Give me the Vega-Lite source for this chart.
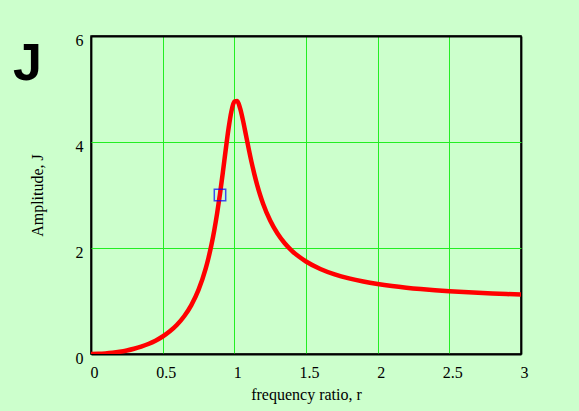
{
  "$schema": "https://vega.github.io/schema/vega-lite/v6.json",
  "width": 430,
  "height": 318,
  "autosize": {"type": "none"},
  "padding": {"left": 91, "top": 36, "right": 58, "bottom": 57},
  "background": "#ccffcc",
  "title": {
    "text": "J",
    "anchor": "start",
    "frame": "group",
    "orient": "top",
    "offset": 0,
    "baseline": "alphabetic",
    "dx": -78,
    "dy": 100,
    "font": "Liberation Sans",
    "fontSize": 52,
    "fontWeight": "bold",
    "color": "#000000"
  },
  "config": {
    "view": {"stroke": "#000000", "strokeWidth": 1.5},
    "axis": {
      "labelFont": "Liberation Serif",
      "titleFont": "Liberation Serif",
      "labelFontSize": 16,
      "titleFontSize": 16,
      "titleFontWeight": "normal",
      "labelColor": "#000000",
      "titleColor": "#000000",
      "gridColor": {"condition": {"test": "datum.value === 0 || datum.value === 3 || datum.value === 6", "value": "#000000"}, "value": "#22ee22"},
      "gridWidth": {"condition": {"test": "datum.value === 0 || datum.value === 3 || datum.value === 6", "value": 1.8}, "value": 1},
      "gridOpacity": 1,
      "ticks": false,
      "domain": false
    }
  },
  "datasets": {
    "curve": [
      {"r": 0, "J": 0},
      {"r": 0.05, "J": 0.0025},
      {"r": 0.1, "J": 0.0101},
      {"r": 0.15, "J": 0.0230},
      {"r": 0.2, "J": 0.0416},
      {"r": 0.25, "J": 0.0666},
      {"r": 0.3, "J": 0.0987},
      {"r": 0.35, "J": 0.1391},
      {"r": 0.4, "J": 0.1895},
      {"r": 0.45, "J": 0.2522},
      {"r": 0.5, "J": 0.3301},
      {"r": 0.55, "J": 0.4279},
      {"r": 0.6, "J": 0.5519},
      {"r": 0.65, "J": 0.7120},
      {"r": 0.7, "J": 0.9232},
      {"r": 0.75, "J": 1.2097},
      {"r": 0.8, "J": 1.6110},
      {"r": 0.82, "J": 1.8168},
      {"r": 0.84, "J": 2.0559},
      {"r": 0.86, "J": 2.3339},
      {"r": 0.88, "J": 2.6554},
      {"r": 0.9, "J": 3.0224},
      {"r": 0.92, "J": 3.4292},
      {"r": 0.94, "J": 3.8558},
      {"r": 0.96, "J": 4.2605},
      {"r": 0.98, "J": 4.5826},
      {"r": 1.0, "J": 4.7619},
      {"r": 1.02, "J": 4.7729},
      {"r": 1.04, "J": 4.6391},
      {"r": 1.06, "J": 4.4130},
      {"r": 1.08, "J": 4.1465},
      {"r": 1.1, "J": 3.8758},
      {"r": 1.12, "J": 3.6205},
      {"r": 1.14, "J": 3.3888},
      {"r": 1.16, "J": 3.1824},
      {"r": 1.18, "J": 3.0003},
      {"r": 1.2, "J": 2.8399},
      {"r": 1.25, "J": 2.5172},
      {"r": 1.3, "J": 2.2775},
      {"r": 1.35, "J": 2.0948},
      {"r": 1.4, "J": 1.9522},
      {"r": 1.45, "J": 1.8382},
      {"r": 1.5, "J": 1.7454},
      {"r": 1.6, "J": 1.6042},
      {"r": 1.7, "J": 1.5025},
      {"r": 1.8, "J": 1.4263},
      {"r": 1.9, "J": 1.3673},
      {"r": 2.0, "J": 1.3205},
      {"r": 2.1, "J": 1.2826},
      {"r": 2.2, "J": 1.2514},
      {"r": 2.3, "J": 1.2254},
      {"r": 2.4, "J": 1.2034},
      {"r": 2.5, "J": 1.1846},
      {"r": 2.6, "J": 1.1684},
      {"r": 2.7, "J": 1.1543},
      {"r": 2.8, "J": 1.1420},
      {"r": 2.9, "J": 1.1311},
      {"r": 3.0, "J": 1.1215}
    ],
    "marker": [{"r": 0.9, "J": 3.0}]
  },
  "layer": [
    {
      "data": {"name": "curve"},
      "mark": {"type": "line", "color": "#ff0000", "strokeWidth": 4.5, "interpolate": "monotone", "clip": true},
      "encoding": {
        "x": {
          "field": "r", "type": "quantitative",
          "scale": {"domain": [0, 3], "nice": false, "zero": false},
          "axis": {"values": [0, 0.5, 1, 1.5, 2, 2.5, 3], "format": "~g", "labelPadding": 10, "labelOffset": 3, "title": "frequency ratio, r", "titleBaseline": "alphabetic", "titleY": 45, "labelFlush": false}
        },
        "y": {
          "field": "J", "type": "quantitative",
          "scale": {"domain": [0, 6], "nice": false},
          "axis": {"values": [0, 2, 4, 6], "labelPadding": 8, "labelOffset": 4, "title": "Amplitude, J", "titlePadding": 30, "labelFlush": false}
        }
      }
    },
    {
      "data": {"name": "marker"},
      "mark": {"type": "point", "shape": "square", "filled": false, "color": "#0000ff", "size": 130, "strokeWidth": 1.5},
      "encoding": {
        "x": {"field": "r", "type": "quantitative"},
        "y": {"field": "J", "type": "quantitative"}
      }
    }
  ]
}
